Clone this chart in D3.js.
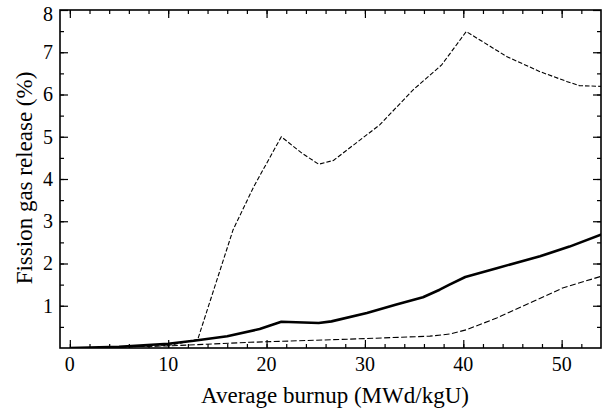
<!DOCTYPE html>
<html>
<head>
<meta charset="utf-8">
<script src="https://cdn.jsdelivr.net/npm/d3@7"></script>
<style>
  body { margin: 0; background: #fff; }
  text { font-family: "Liberation Serif", "Times New Roman", serif; fill: #000; }
</style>
</head>
<body>
<div id="chart"></div>
<script>
// values
var upperBurnup = [0, 5, 10, 13.0, 16.6, 18.7, 21.5, 23.6, 25.3, 26.8, 31.5, 34.9, 37.8, 40.3, 44.4, 47.8, 50.5, 51.8, 54.2];
var upperFGR    = [0, 0.02, 0.06, 0.2, 2.8, 3.82, 5.0, 4.61, 4.35, 4.44, 5.28, 6.11, 6.70, 7.49, 6.90, 6.54, 6.31, 6.21, 6.19];

var meanBurnup = [0, 5, 10, 12.6, 16.0, 19.3, 21.5, 25.3, 26.6, 30.2, 33.2, 35.9, 37.6, 38.6, 40.2, 43.4, 47.8, 50.8, 54.2];
var meanFGR    = [0, 0.03, 0.1, 0.17, 0.28, 0.45, 0.62, 0.59, 0.63, 0.83, 1.03, 1.2, 1.38, 1.50, 1.68, 1.89, 2.17, 2.40, 2.70];

var lowerBurnup = [0, 10, 13, 18.3, 28.5, 36.6, 38.6, 40.3, 43.4, 46.8, 50.1, 54.2];
var lowerFGR    = [0, 0.05, 0.08, 0.135, 0.21, 0.28, 0.33, 0.43, 0.71, 1.07, 1.42, 1.71];

var xTicks = [0, 10, 20, 30, 40, 50];
var yTicks = [1, 2, 3, 4, 5, 6, 7, 8];

var width = 603, height = 411;
// plot box (window.top is read-only, so no plain "top" here)
var pLeft = 60, pRight = 601, pTop = 10, pBottom = 348;

var svg = d3.select("#chart")
  .append("svg")
    .attr("width", width)
    .attr("height", height);

var x = d3.scaleLinear()
  .domain([-1, 54])
  .range([pLeft, pRight]);

var y = d3.scaleLinear()
  .domain([0, 8])
  .range([pBottom, pTop]);

svg.append("clipPath")
    .attr("id", "plotClip")
  .append("rect")
    .attr("x", pLeft)
    .attr("y", pTop - 2)
    .attr("width", pRight - pLeft)
    .attr("height", pBottom - pTop + 2);

var line = d3.line()
  .x(function(d){ return x(d[0]) })
  .y(function(d){ return y(d[1]) });

function pairs(xs, ys){
  return xs.map(function(v, i){ return [v, ys[i]] });
}

var plot = svg.append("g").attr("clip-path", "url(#plotClip)");

plot.append("path")
  .datum(pairs(lowerBurnup, lowerFGR))
  .attr("d", line)
  .attr("fill", "none")
  .attr("stroke", "#000")
  .attr("stroke-width", 1.1)
  .attr("stroke-dasharray", "6,2.5");

plot.append("path")
  .datum(pairs(upperBurnup, upperFGR))
  .attr("d", line)
  .attr("fill", "none")
  .attr("stroke", "#000")
  .attr("stroke-width", 1.1)
  .attr("stroke-dasharray", "4.5,2");

plot.append("path")
  .datum(pairs(meanBurnup, meanFGR))
  .attr("d", line)
  .attr("fill", "none")
  .attr("stroke", "#000")
  .attr("stroke-width", 2.6)
  .attr("stroke-linejoin", "round");

// axes: ticks point inwards, mirrored on top and right
var xMinor = d3.range(0, 54, 2);
var yMinor = d3.range(0.5, 8, 0.5);

svg.append("g")
  .attr("transform", "translate(0," + pBottom + ")")
  .call(d3.axisTop(x).tickValues(xMinor).tickSize(4).tickFormat(""));
svg.append("g")
  .attr("transform", "translate(0," + pBottom + ")")
  .call(d3.axisTop(x).tickValues(xTicks).tickSize(8).tickFormat(""));
svg.append("g")
  .attr("transform", "translate(0," + pTop + ")")
  .call(d3.axisBottom(x).tickValues(xMinor).tickSize(4).tickFormat(""));
svg.append("g")
  .attr("transform", "translate(0," + pTop + ")")
  .call(d3.axisBottom(x).tickValues(xTicks).tickSize(8).tickFormat(""));

svg.append("g")
  .attr("transform", "translate(" + pLeft + ",0)")
  .call(d3.axisRight(y).tickValues(yMinor).tickSize(4).tickFormat(""));
svg.append("g")
  .attr("transform", "translate(" + pLeft + ",0)")
  .call(d3.axisRight(y).tickValues(yTicks).tickSize(8).tickFormat(""));
svg.append("g")
  .attr("transform", "translate(" + pRight + ",0)")
  .call(d3.axisLeft(y).tickValues(yMinor).tickSize(4).tickFormat(""));
svg.append("g")
  .attr("transform", "translate(" + pRight + ",0)")
  .call(d3.axisLeft(y).tickValues(yTicks).tickSize(8).tickFormat(""));

svg.selectAll(".domain").remove();
svg.selectAll(".tick line").attr("stroke", "#000").attr("stroke-width", 1.2);

// frame
svg.append("rect")
  .attr("x", pLeft)
  .attr("y", pTop)
  .attr("width", pRight - pLeft)
  .attr("height", pBottom - pTop)
  .attr("fill", "none")
  .attr("stroke", "#000")
  .attr("stroke-width", 1.6);

// tick labels
svg.append("g").selectAll("text")
  .data(xTicks)
  .enter()
  .append("text")
    .attr("x", function(d){ return x(d) })
    .attr("y", 371)
    .attr("text-anchor", "middle")
    .attr("font-size", "20px")
    .text(function(d){ return d });

svg.append("g").selectAll("text")
  .data(yTicks)
  .enter()
  .append("text")
    .attr("x", 53)
    .attr("y", function(d){ return d == 8 ? y(d) + 4.5 : y(d) })
    .attr("dy", "0.34em")
    .attr("text-anchor", "end")
    .attr("font-size", "20px")
    .text(function(d){ return d });

// axis titles
svg.append("text")
  .attr("x", 335)
  .attr("y", 403)
  .attr("text-anchor", "middle")
  .attr("font-size", "23px")
  .text("Average burnup (MWd/kgU)");

svg.append("text")
  .attr("transform", "translate(32,178)rotate(-90)")
  .attr("text-anchor", "middle")
  .attr("font-size", "23px")
  .text("Fission gas release (%)");
</script>
</body>
</html>
